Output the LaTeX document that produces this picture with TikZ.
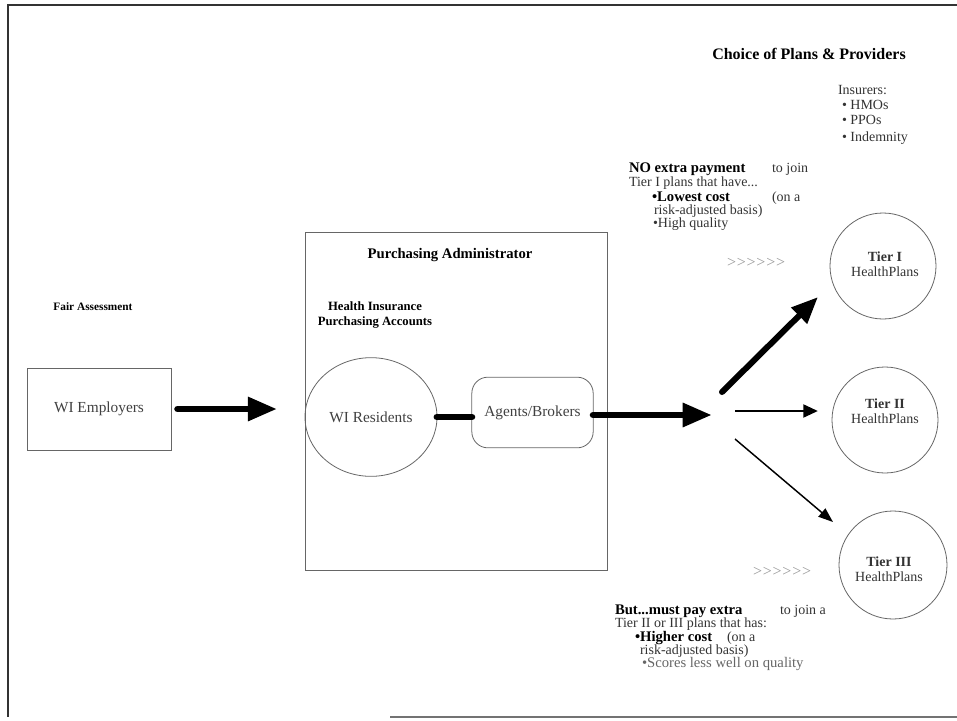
\documentclass[tikz,border=0pt]{standalone}
\usepackage{fontspec}
\setmainfont{Liberation Serif}
\usetikzlibrary{arrows.meta,shapes.geometric}
% a row of chevrons, kerned apart so no >> ligature is formed
\newcommand{\chevrons}{>\kern0.6pt>\kern0.6pt>\kern0.6pt>\kern0.6pt>\kern0.6pt>}
\begin{document}
\begin{tikzpicture}[x=0.75pt,y=-0.75pt,
  every node/.style={inner sep=0pt, outer sep=0pt},
  frameline/.style={draw=black!80, line width=0.8pt},
  boxline/.style={draw=black!60, line width=0.6pt},
  txt/.style={anchor=base west, font=\fontsize{10.5}{12}\selectfont, text=black!80},
  btxt/.style={anchor=base west, font=\bfseries\fontsize{11}{12}\selectfont, text=black},
  nodetxt/.style={font=\fontsize{11.5}{13}\selectfont, text=black!75},
  tiertxt/.style={align=center, font=\fontsize{10.5}{11.5}\selectfont, text=black!80},
  chev/.style={anchor=base west, font=\fontsize{12}{12}\selectfont, text=black!40},
  fatarrow/.style={line width=5.2pt, black, line cap=round, -{Triangle[length=22pt,width=17pt]}},
  midarrow/.style={line width=4.5pt, black, line cap=round, -{Triangle[length=20pt,width=16pt]}},
  thinarrow/.style={line width=2.2pt, black, -{Triangle[length=11pt,width=9.5pt]}},
  hairarrow/.style={line width=1.1pt, black, -{Triangle[length=11pt,width=8pt]}}
]
\useasboundingbox (0,0) rectangle (957,721);

% page frame
\draw[frameline] (957,5) -- (8,5) -- (8,717);
\draw[frameline, draw=black!55] (390,717) -- (957,717);

% headings
\node[anchor=base, font=\bfseries\fontsize{12}{14}\selectfont] (choice) at (809,59) {Choice of Plans \& Providers};
\node[txt] (ins0) at (838,94) {Insurers:};
\node[txt] (ins1) at (842,109) {\textbullet\ HMOs};
\node[txt] (ins2) at (842,124) {\textbullet\ PPOs};
\node[txt] (ins3) at (842,141) {\textbullet\ Indemnity};

% Tier I conditions
\node[btxt] (no1) at (629,172) {NO extra payment};
\node[txt] (no1b) at (772,172) {to join};
\node[txt] (no2) at (629,186) {Tier I plans that have...};
\node[btxt] (no3) at (652,201) {\textbullet Lowest cost};
\node[txt] (no3b) at (772,201) {(on a};
\node[txt] (no4) at (654,214) {risk-adjusted basis)};
\node[txt] (no5) at (653,227) {\textbullet High quality};
\node[chev] (chev1) at (727,267) {\chevrons};

% Tier II/III conditions
\node[btxt] (but1) at (615,614) {But...must pay extra};
\node[txt] (but1b) at (780,614) {to join a};
\node[txt] (but2) at (615,627) {Tier II or III plans that has:};
\node[btxt] (but3) at (635,641) {\textbullet Higher cost};
\node[txt] (but3b) at (727,641) {(on a};
\node[txt] (but4) at (640,654) {risk-adjusted basis)};
\node[txt, text=black!60, font=\fontsize{11}{12}\selectfont] (but5) at (642,667) {\textbullet Scores less well on quality};
\node[chev] (chev2) at (753,576) {\chevrons};

% left side
\node[font=\bfseries\fontsize{8.5}{10}\selectfont] (fair) at (93,307) {Fair Assessment};
\node[boxline, minimum width=108pt, minimum height=61.5pt, nodetxt] (emp) at (99,409) {WI Employers};

% purchasing administrator
\node[boxline, minimum width=227pt, minimum height=253.5pt] (padm) at (456.5,401) {};
\node[font=\bfseries\fontsize{11}{13}\selectfont] (padmtitle) at (450,255) {Purchasing Administrator};
\node[align=center, font=\bfseries\fontsize{9.5}{12}\selectfont] (hipa) at (375,315) {Health Insurance\\Purchasing Accounts};
\node[ellipse, boxline, minimum width=99pt, minimum height=89pt, nodetxt] (wires) at (371,417) {WI Residents};
\node[boxline, rounded corners=12pt, minimum width=91pt, minimum height=53pt, nodetxt] (agents) at (532.5,412.5) {Agents/Brokers};

% health plan tiers
\node[circle, boxline, minimum size=79.5pt] (tier1) at (883,266) {};
\node[tiertxt] (tier1txt) at (885,264.5) {\textbf{Tier I}\\HealthPlans};
\node[circle, boxline, minimum size=79.5pt] (tier2) at (885,420) {};
\node[tiertxt] (tier2txt) at (885,411) {\textbf{Tier II}\\HealthPlans};
\node[circle, boxline, minimum size=81pt] (tier3) at (893,565) {};
\node[tiertxt] (tier3txt) at (889,569) {\textbf{Tier III}\\HealthPlans};

% flow
\coordinate (hub) at (712,415);
\coordinate (t1s) at (722,392);
\coordinate (t1e) at (818,297);
\coordinate (t2s) at (735,411);
\coordinate (t2e) at (818,411);
\coordinate (t3s) at (735,439);
\coordinate (t3e) at (833,522);

\draw[fatarrow, shorten <=5pt, shorten >=21pt] (emp.east) -- (emp.east -| padm.west);
\draw[line width=5.2pt, black, line cap=round] (wires.east) -- (wires.east -| agents.west);
\draw[fatarrow] (agents.east |- hub) -- (hub);
\draw[midarrow] (t1s) -- (t1e);
\draw[thinarrow] (t2s) -- (t2e);
\draw[hairarrow] (t3s) -- (t3e);
\end{tikzpicture}
\end{document}
